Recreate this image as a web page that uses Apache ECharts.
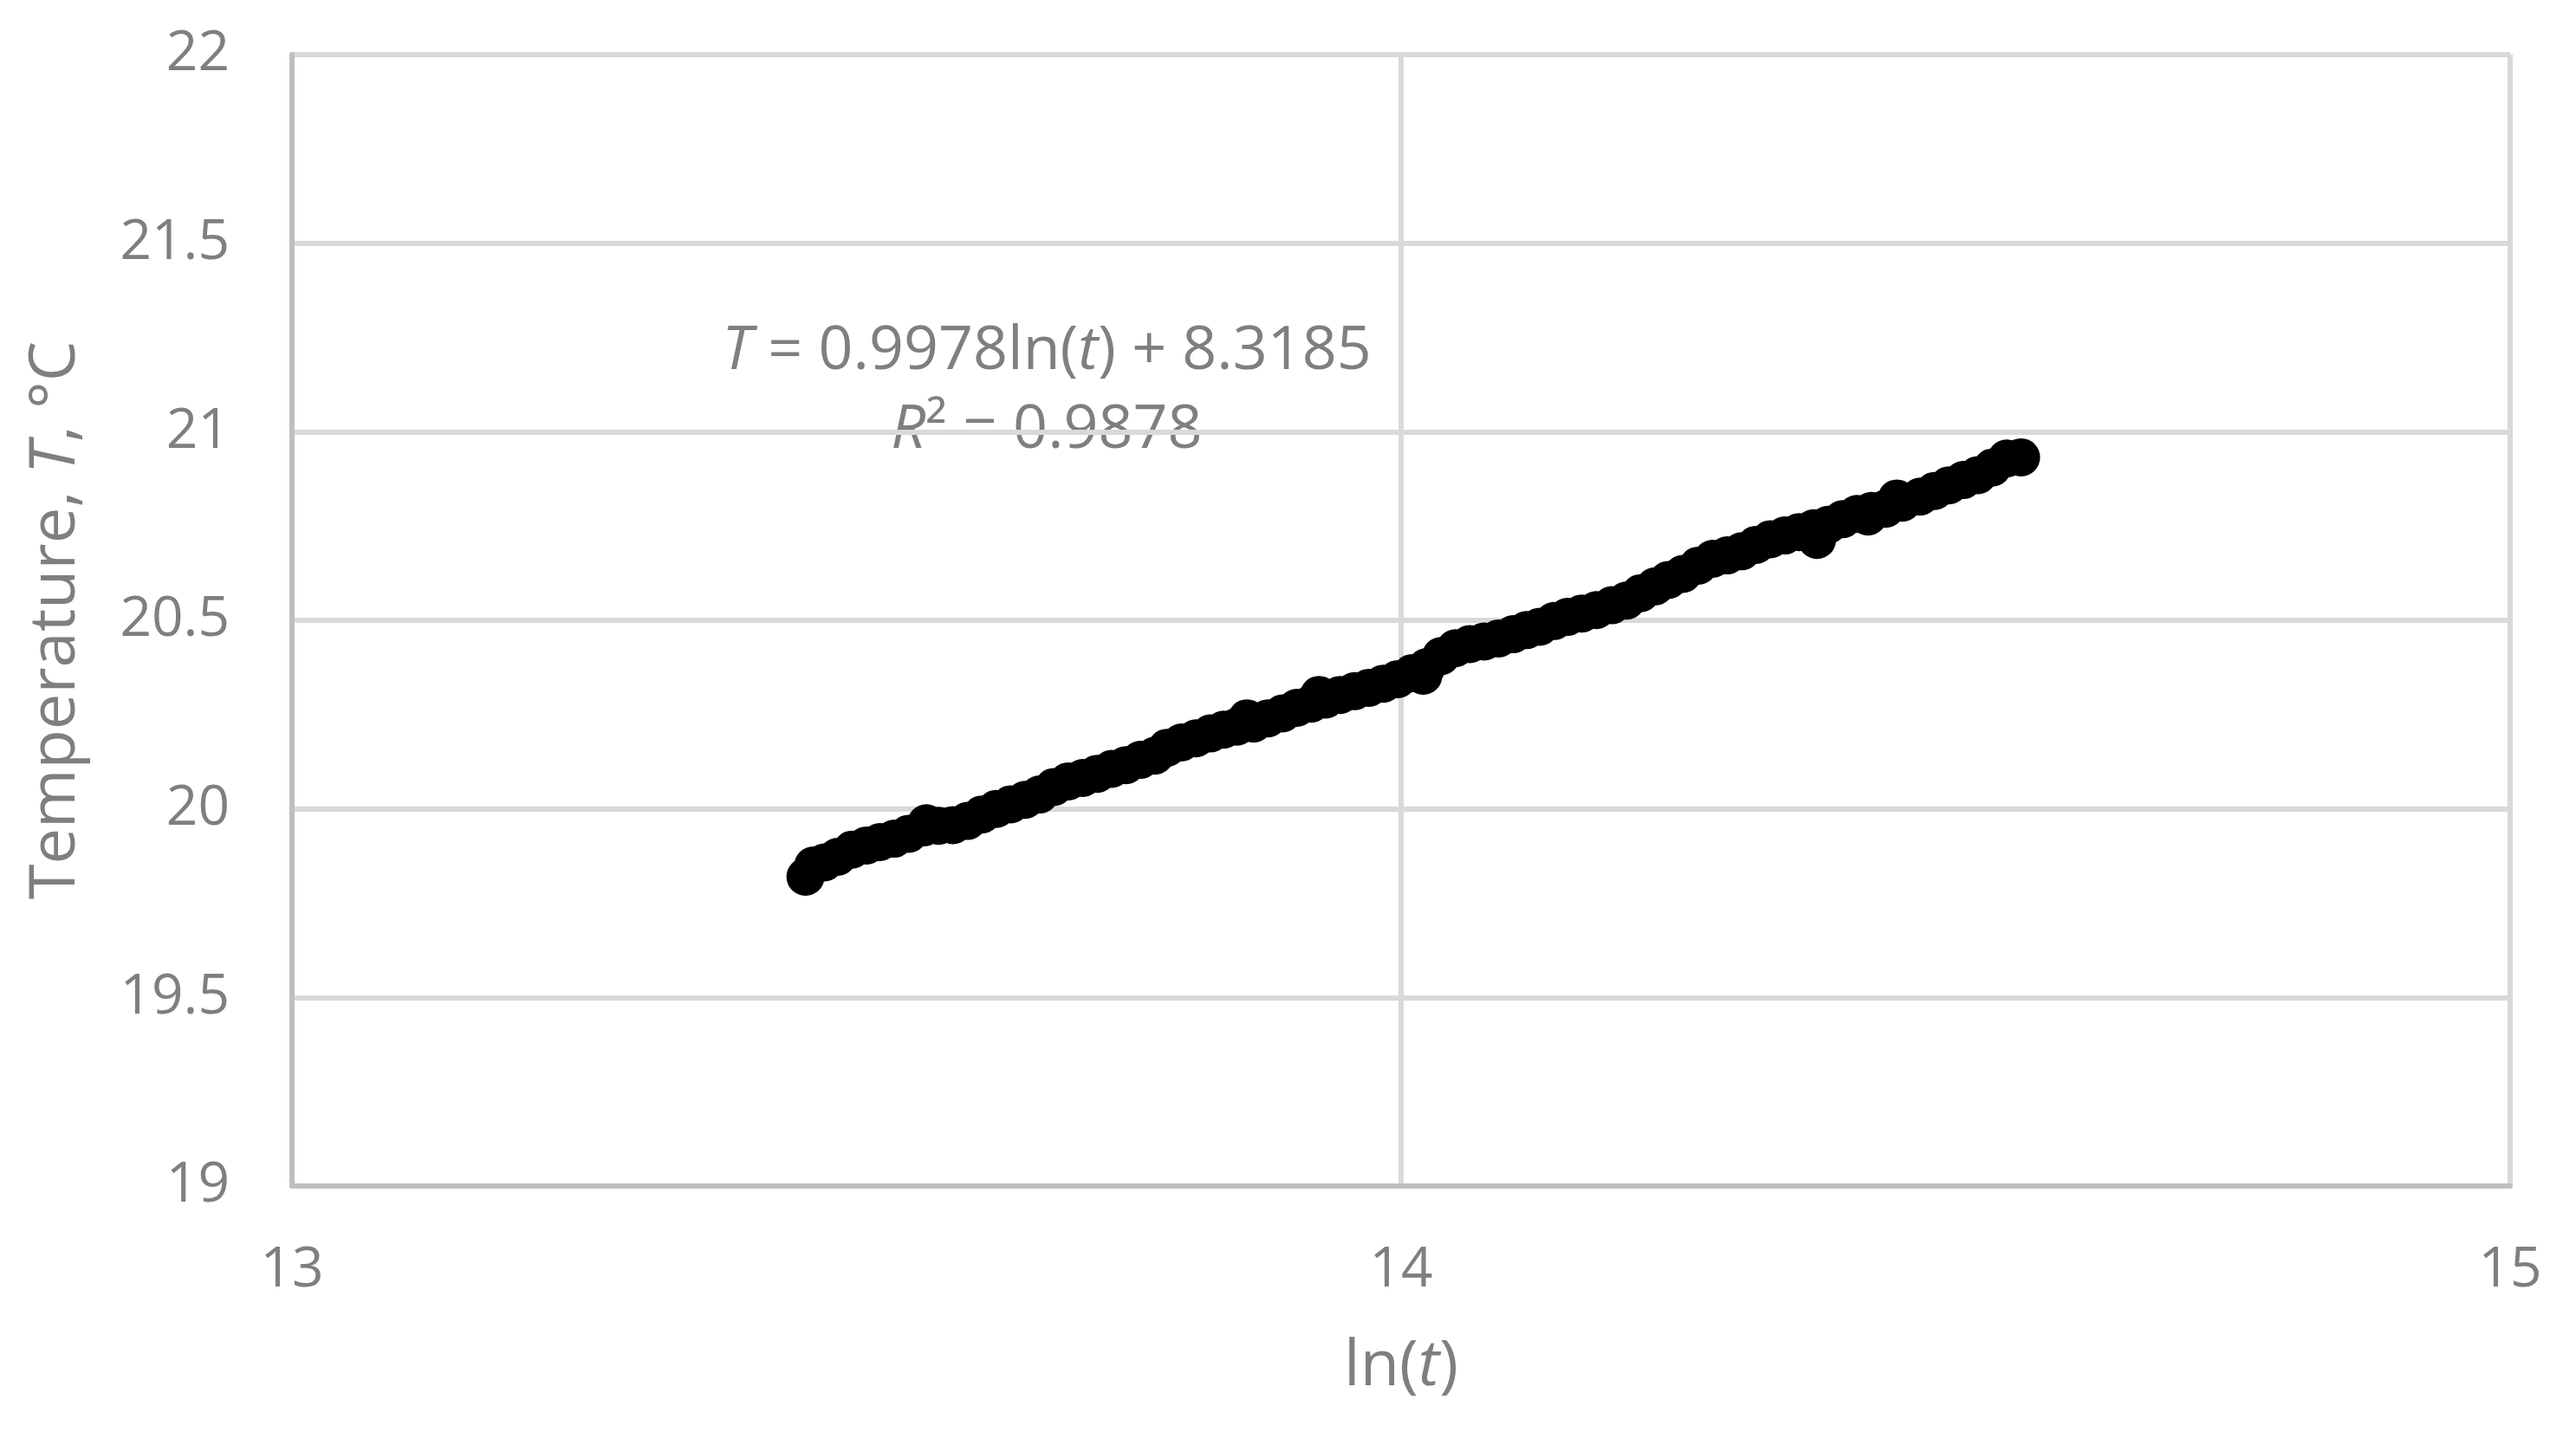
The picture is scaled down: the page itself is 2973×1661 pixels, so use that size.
<!DOCTYPE html>
<html>
<head>
<meta charset="utf-8">
<script src="https://cdn.jsdelivr.net/npm/echarts@6/dist/echarts.min.js"></script>
<style>
    html, body { margin: 0; padding: 0; background: #ffffff; }
    #chart { width: 2973px; height: 1661px; }
</style>
</head>
<body>
<div id="chart"></div>
<script>
    // ln(t) and temperature, left to right
    var lnT = [
        13.463, 13.470, 13.480, 13.492, 13.505, 13.518, 13.530, 13.543, 13.556, 13.570,
        13.572, 13.583, 13.596, 13.609, 13.622, 13.635, 13.648, 13.661, 13.674, 13.687,
        13.700, 13.713, 13.726, 13.739, 13.752, 13.765, 13.778, 13.789, 13.802, 13.815,
        13.828, 13.840, 13.852, 13.861, 13.867, 13.880, 13.893, 13.906, 13.919, 13.926,
        13.932, 13.945, 13.958, 13.971, 13.984, 13.997, 14.010, 14.020, 14.023, 14.036,
        14.049, 14.062, 14.075, 14.088, 14.101, 14.113, 14.125, 14.138, 14.150, 14.163,
        14.176, 14.190, 14.203, 14.216, 14.229, 14.241, 14.254, 14.268, 14.281, 14.294,
        14.307, 14.320, 14.333, 14.346, 14.359, 14.372, 14.375, 14.385, 14.398, 14.411,
        14.421, 14.424, 14.437, 14.447, 14.452, 14.468, 14.481, 14.494, 14.507, 14.520,
        14.533, 14.546, 14.559
    ];
    var temperature = [
        19.820, 19.850, 19.858, 19.873, 19.892, 19.903, 19.912, 19.921, 19.934, 19.951,
        19.962, 19.955, 19.957, 19.968, 19.985, 20.000, 20.012, 20.024, 20.038, 20.058,
        20.073, 20.082, 20.093, 20.106, 20.116, 20.130, 20.141, 20.162, 20.176, 20.187,
        20.200, 20.210, 20.218, 20.240, 20.226, 20.240, 20.253, 20.268, 20.279, 20.302,
        20.290, 20.302, 20.312, 20.321, 20.332, 20.344, 20.360, 20.353, 20.376, 20.405,
        20.426, 20.437, 20.444, 20.452, 20.463, 20.474, 20.483, 20.498, 20.509, 20.518,
        20.527, 20.540, 20.552, 20.572, 20.590, 20.607, 20.623, 20.645, 20.663, 20.672,
        20.683, 20.700, 20.715, 20.725, 20.734, 20.744, 20.713, 20.753, 20.768, 20.782,
        20.775, 20.790, 20.796, 20.823, 20.812, 20.828, 20.843, 20.858, 20.872, 20.885,
        20.905, 20.929, 20.932
    ];

    var xTicks = [13, 14, 15];
    var yTicks = [19, 19.5, 20, 20.5, 21, 21.5, 22];

    var fitText = '{i|T} = 0.9978ln({i|t}) + 8.3185';
    var r2Text = '{i|R}² = 0.9878';

    var labelColor = '#7f7f7f';
    var fontName = 'Open Sans';

    var points = [];
    for (var i = 0; i < lnT.length; i++) {
        points.push([lnT[i], temperature[i]]);
    }

    var chart = echarts.init(document.getElementById('chart'));

    chart.setOption({
        backgroundColor: '#ffffff',
        animation: false,
        textStyle: { fontFamily: fontName },
        grid: {
            left: 337,
            right: 76,
            top: 63,
            bottom: 292,
            containLabel: false
        },
        xAxis: {
            type: 'value',
            min: xTicks[0],
            max: xTicks[xTicks.length - 1],
            interval: 1,
            name: 'ln({i|t})',
            nameLocation: 'middle',
            nameGap: 172,
            nameTextStyle: {
                color: labelColor,
                fontSize: 74,
                fontFamily: fontName,
                rich: {
                    i: { fontStyle: 'italic', fontSize: 74, color: labelColor, fontFamily: fontName }
                }
            },
            axisLine: { show: true, lineStyle: { color: '#bfbfbf', width: 6 } },
            axisTick: { show: false },
            axisLabel: {
                color: labelColor,
                fontSize: 64,
                fontFamily: fontName,
                margin: 66
            },
            splitLine: { show: true, lineStyle: { color: '#d9d9d9', width: 6 } }
        },
        yAxis: {
            type: 'value',
            min: yTicks[0],
            max: yTicks[yTicks.length - 1],
            interval: 0.5,
            name: 'Temperature, {i|T}, °C',
            nameLocation: 'middle',
            nameGap: 235,
            nameTextStyle: {
                color: labelColor,
                fontSize: 74,
                fontFamily: fontName,
                rich: {
                    i: { fontStyle: 'italic', fontSize: 74, color: labelColor, fontFamily: fontName }
                }
            },
            axisLine: { show: true, lineStyle: { color: '#bfbfbf', width: 6 } },
            axisTick: { show: false },
            axisLabel: {
                color: labelColor,
                fontSize: 64,
                fontFamily: fontName,
                margin: 72
            },
            splitLine: { show: true, lineStyle: { color: '#d9d9d9', width: 6 } }
        },
        graphic: [
            {
                type: 'text',
                x: 1208,
                y: 406,
                style: {
                    text: fitText,
                    fill: labelColor,
                    fontSize: 70,
                    fontFamily: fontName,
                    align: 'center',
                    verticalAlign: 'middle',
                    rich: {
                        i: { fontStyle: 'italic', fontSize: 70, fill: labelColor, fontFamily: fontName }
                    }
                }
            },
            {
                type: 'text',
                x: 1208,
                y: 497,
                style: {
                    text: r2Text,
                    fill: labelColor,
                    fontSize: 70,
                    fontFamily: fontName,
                    align: 'center',
                    verticalAlign: 'middle',
                    rich: {
                        i: { fontStyle: 'italic', fontSize: 70, fill: labelColor, fontFamily: fontName }
                    }
                }
            }
        ],
        series: [
            {
                name: 'Temperature',
                type: 'scatter',
                symbol: 'circle',
                symbolSize: 44,
                itemStyle: { color: '#000000', opacity: 1 },
                data: points
            }
        ]
    });
</script>
</body>
</html>
